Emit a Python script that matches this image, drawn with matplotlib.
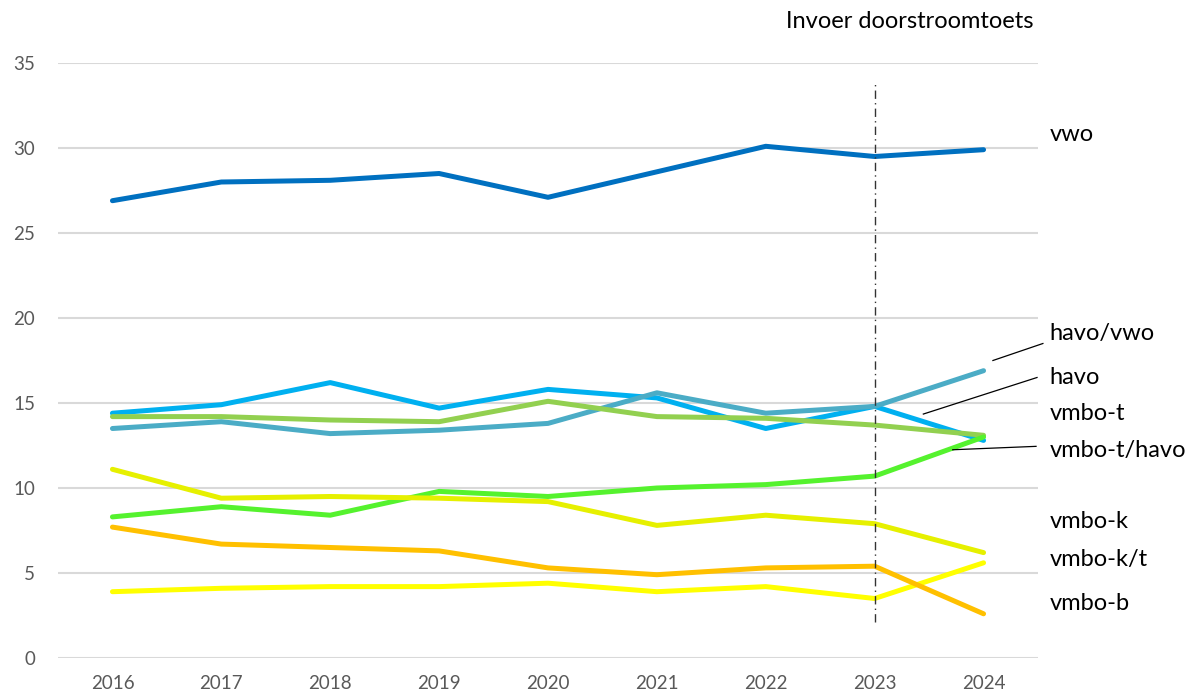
"""
Doorstroom per schooladvies, 2016-2024
"""
import matplotlib
matplotlib.use("Agg")
import matplotlib.pyplot as plt

plt.rcParams['font.family'] = ['Lato', 'DejaVu Sans']

# Data
years = [2016, 2017, 2018, 2019, 2020, 2021, 2022, 2023, 2024]
vwo = [26.9, 28.0, 28.1, 28.5, 27.1, 28.6, 30.1, 29.5, 29.9]
havo_vwo = [13.5, 13.9, 13.2, 13.4, 13.8, 15.6, 14.4, 14.8, 16.9]
havo = [14.4, 14.9, 16.2, 14.7, 15.8, 15.3, 13.5, 14.8, 12.8]
vmbo_t = [14.2, 14.2, 14.0, 13.9, 15.1, 14.2, 14.1, 13.7, 13.1]
vmbo_t_havo = [8.3, 8.9, 8.4, 9.8, 9.5, 10.0, 10.2, 10.7, 13.0]
vmbo_k = [11.1, 9.4, 9.5, 9.4, 9.2, 7.8, 8.4, 7.9, 6.2]
vmbo_k_t = [3.9, 4.1, 4.2, 4.2, 4.4, 3.9, 4.2, 3.5, 5.6]
vmbo_b = [7.7, 6.7, 6.5, 6.3, 5.3, 4.9, 5.3, 5.4, 2.6]

series = [
    ("vwo", vwo, "#0070C0"),
    ("havo", havo, "#00B0F0"),
    ("havo/vwo", havo_vwo, "#4BACC6"),
    ("vmbo-t", vmbo_t, "#92D050"),
    ("vmbo-t/havo", vmbo_t_havo, "#55F22E"),
    ("vmbo-k", vmbo_k, "#E6F000"),
    ("vmbo-k/t", vmbo_k_t, "#FFFF00"),
    ("vmbo-b", vmbo_b, "#FFC000"),
]

# label positions (y in data units)
label_y = {
    "vwo": 30.8, "havo/vwo": 19.1, "havo": 16.5, "vmbo-t": 14.4,
    "vmbo-t/havo": 12.2, "vmbo-k": 8.0, "vmbo-k/t": 5.8, "vmbo-b": 3.2,
}

fig = plt.figure(figsize=(11.91, 6.92), dpi=100)
ax = fig.add_axes([58 / 1191, 1 - 658 / 692, 980 / 1191, 595 / 692])

for name, vals, color in series:
    ax.plot(years, vals, color=color, lw=3.6, solid_capstyle='round',
            solid_joinstyle='round')

# Invoer doorstroomtoets marker
ax.plot([2023, 2023], [2.1, 33.8], color='#333333', lw=1.0,
        linestyle=(0, (6, 3, 1, 3)), zorder=5)

ax.set_xlim(2015.5, 2024.5)
ax.set_ylim(0, 35)
ax.set_yticks(range(0, 36, 5))
ax.set_xticks(years)
ax.grid(axis='y', color='#D9D9D9', lw=1.5)
ax.set_axisbelow(True)
for s in ax.spines.values():
    s.set_visible(False)
ax.tick_params(length=0, labelsize=13.5, colors='#595959')
ax.tick_params(axis='y', pad=16.5)
ax.tick_params(axis='x', pad=12)

# right-hand labels
trans = ax.get_yaxis_transform()
for name, y in label_y.items():
    ax.text(1.012, y, name, transform=trans, fontsize=17, color='black',
            va='center', ha='left', clip_on=False)

# leader lines
leaders = [
    ((1.005, 18.5), (0.954, 17.5)),
    ((0.999, 16.5), (0.883, 14.35)),
    ((0.998, 12.45), (0.913, 12.25)),
]
for (x0, y0), (x1, y1) in leaders:
    ax.plot([x0, x1], [y0, y1], color='black', lw=0.9, transform=trans,
            clip_on=False)

fig.text(1033 / 1191, 1 - 22 / 692, "Invoer doorstroomtoets", fontsize=17,
         ha='right', va='center')

fig.savefig("out.png", dpi=100)
